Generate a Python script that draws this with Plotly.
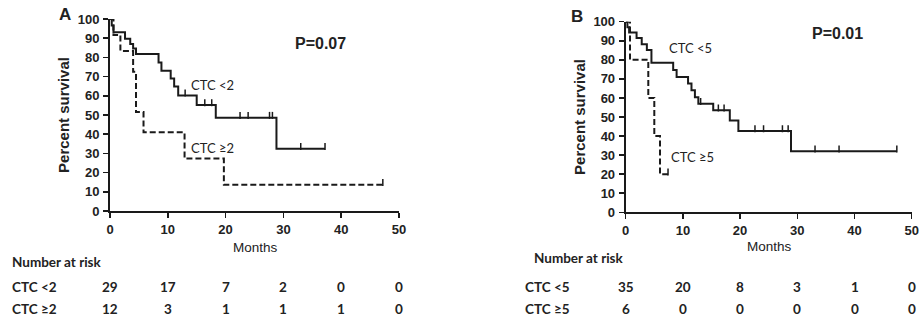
import plotly.graph_objects as go

W, H = 921, 324

# ---------------- data ----------------
# Panel A
a_low_t = [0, 0.3, 0.6, 2.6, 3.5, 4.0, 4.5, 8.4, 8.9, 10.5, 11.1, 11.8, 15.0, 18.3, 28.8, 37.2]
a_low_s = [100, 96.6, 93.1, 89.7, 87.0, 84.6, 81.8, 77.3, 73.0, 69.0, 64.8, 60.2, 55.2, 48.6, 32.4, 32.4]
a_low_cens_t = [13.0, 16.4, 17.6, 22.5, 23.9, 27.6, 28.1, 33.0, 37.2]
a_low_cens_s = [60.2, 55.2, 55.2, 48.6, 48.6, 48.6, 48.6, 32.4, 32.4]

a_high_t = [0, 0.6, 1.8, 4.0, 4.5, 5.8, 12.9, 19.7, 47.2]
a_high_s = [100, 91.7, 83.3, 72.5, 51.5, 41.0, 27.3, 13.7, 13.7]
a_high_cens_t = [47.2]
a_high_cens_s = [13.7]

# Panel B
b_low_t = [0, 0.3, 0.6, 1.9, 2.8, 3.7, 4.5, 8.3, 8.9, 10.9, 11.5, 12.1, 12.7, 15.3, 18.2, 19.7, 28.9, 47.4]
b_low_s = [100, 97.1, 94.3, 91.4, 88.2, 85.2, 78.4, 74.7, 71.0, 67.6, 64.0, 60.4, 56.9, 53.5, 48.1, 42.7, 32.0, 32.0]
b_low_cens_t = [13.1, 16.2, 17.2, 22.6, 24.1, 27.4, 28.4, 33.1, 37.3, 47.4]
b_low_cens_s = [56.9, 53.5, 53.5, 42.7, 42.7, 42.7, 42.7, 32.0, 32.0, 32.0]

b_high_t = [0, 0.75, 3.95, 5.0, 6.0, 7.4]
b_high_s = [100, 80, 60, 40, 20, 20]
b_high_cens_t = [7.4]
b_high_cens_s = [20]

x_ticks = [0, 10, 20, 30, 40, 50]
y_ticks = [0, 10, 20, 30, 40, 50, 60, 70, 80, 90, 100]

risk_times = [0, 10, 20, 30, 40, 50]
a_risk_low = [29, 17, 7, 2, 0, 0]
a_risk_high = [12, 3, 1, 1, 1, 0]
b_risk_low = [35, 20, 8, 3, 1, 0]
b_risk_high = [6, 0, 0, 0, 0, 0]

a_labels = ["CTC <2", "CTC \u22652"]
b_labels = ["CTC <5", "CTC \u22655"]

# ---------------- figure ----------------
fig = go.Figure()

def px_x(p):
    return p / W

def px_y(p):
    return 1 - p / H

LINE = "#1a1a1a"

def add_curve(t, s, ct, cs, xa, ya, dashed):
    fig.add_trace(go.Scatter(
        x=t, y=s, mode="lines", line_shape="hv",
        line=dict(color=LINE, width=2, dash="6px,3px" if dashed else "solid"),
        xaxis=xa, yaxis=ya, showlegend=False, hoverinfo="skip"))
    fig.add_trace(go.Scatter(
        x=ct, y=[v + 1.2 for v in cs], mode="markers",
        marker=dict(symbol="line-ns", size=5, line=dict(width=1.5, color=LINE)),
        xaxis=xa, yaxis=ya, showlegend=False, hoverinfo="skip"))

add_curve(a_low_t, a_low_s, a_low_cens_t, a_low_cens_s, "x", "y", False)
add_curve(a_high_t, a_high_s, a_high_cens_t, a_high_cens_s, "x", "y", True)
add_curve(b_low_t, b_low_s, b_low_cens_t, b_low_cens_s, "x2", "y2", False)
add_curve(b_high_t, b_high_s, b_high_cens_t, b_high_cens_s, "x2", "y2", True)

tickfont = dict(family="Liberation Sans", size=13, color="#222", weight="bold")
axis_common = dict(showgrid=False, zeroline=False, showline=True, linecolor=LINE, linewidth=2,
                   ticks="outside", ticklen=5, tickwidth=1.5, tickcolor=LINE,
                   tickfont=tickfont, fixedrange=True, automargin=False)

title_font = dict(family="Liberation Sans", size=15, color="#222", weight="bold")

fig.update_layout(
    template="none",
    width=W, height=H,
    margin=dict(l=0, r=0, t=0, b=0, pad=0, autoexpand=False),
    paper_bgcolor="white", plot_bgcolor="white",
    xaxis=dict(domain=[px_x(110), px_x(399)], range=[0, 50], tickvals=x_ticks,
               anchor="y", **axis_common),
    yaxis=dict(domain=[px_y(211), px_y(19)], range=[0, 100], tickvals=y_ticks,
               anchor="x", ticklabelstandoff=1,
               title=dict(text="Percent survival", font=title_font, standoff=4),
               **axis_common),
    xaxis2=dict(domain=[px_x(625.7), px_x(911.7)], range=[0, 50], tickvals=x_ticks,
                anchor="y2", **axis_common),
    yaxis2=dict(domain=[px_y(212.3), px_y(21.7)], range=[0, 100], tickvals=y_ticks,
                anchor="x2", ticklabelstandoff=1,
                title=dict(text="Percent survival", font=title_font, standoff=4),
                **axis_common),
)

ann = []
def text(x, y, s, size=12, family="Lato", weight="normal", xanchor="center", xref="paper", color="#222"):
    ann.append(dict(x=x, y=y, xref=xref, yref="paper", text=s, showarrow=False,
                    xanchor=xanchor, yanchor="middle",
                    font=dict(family=family, size=size, color=color, weight=weight)))

# panel letters
text(px_x(65), px_y(15), "A", size=17, family="Liberation Sans", weight="bold")
text(px_x(577), px_y(16), "B", size=17, family="Liberation Sans", weight="bold")
# p values
text(px_x(320), px_y(43), "P=0.07", size=16, family="Liberation Sans", weight="bold")
text(px_x(837), px_y(33), "P=0.01", size=16, family="Liberation Sans", weight="bold")
# curve labels
text(px_x(212), px_y(85), a_labels[0], size=13)
text(px_x(212), px_y(148), a_labels[1], size=13)
text(px_x(690), px_y(48), b_labels[0], size=13)
text(px_x(692), px_y(157), b_labels[1], size=13)
# Months
text(px_x(255), px_y(247), "Months", size=13.5, family="Liberation Sans")
text(px_x(769), px_y(246), "Months", size=13.5, family="Liberation Sans")
# Number at risk tables
RS = 13.5
text(px_x(10), px_y(262), "Number at risk", size=RS, weight="bold", xanchor="left")
text(px_x(10), px_y(287), a_labels[0], size=RS, weight="bold", xanchor="left")
text(px_x(10), px_y(309), a_labels[1], size=RS, weight="bold", xanchor="left")
text(px_x(532), px_y(258), "Number at risk", size=RS, weight="bold", xanchor="left")
text(px_x(523), px_y(287), b_labels[0], size=RS, weight="bold", xanchor="left")
text(px_x(523), px_y(309), b_labels[1], size=RS, weight="bold", xanchor="left")

for t, lo, hi in zip(risk_times, a_risk_low, a_risk_high):
    text(t, px_y(287), str(lo), size=RS, weight="bold", xref="x")
    text(t, px_y(309), str(hi), size=RS, weight="bold", xref="x")
for t, lo, hi in zip(risk_times, b_risk_low, b_risk_high):
    text(t, px_y(287), str(lo), size=RS, weight="bold", xref="x2")
    text(t, px_y(309), str(hi), size=RS, weight="bold", xref="x2")

fig.update_layout(annotations=ann)

fig.write_html("out.html", config={"displayModeBar": False, "staticPlot": True},
               post_script="document.body.style.margin='0';document.body.style.overflow='hidden';")
